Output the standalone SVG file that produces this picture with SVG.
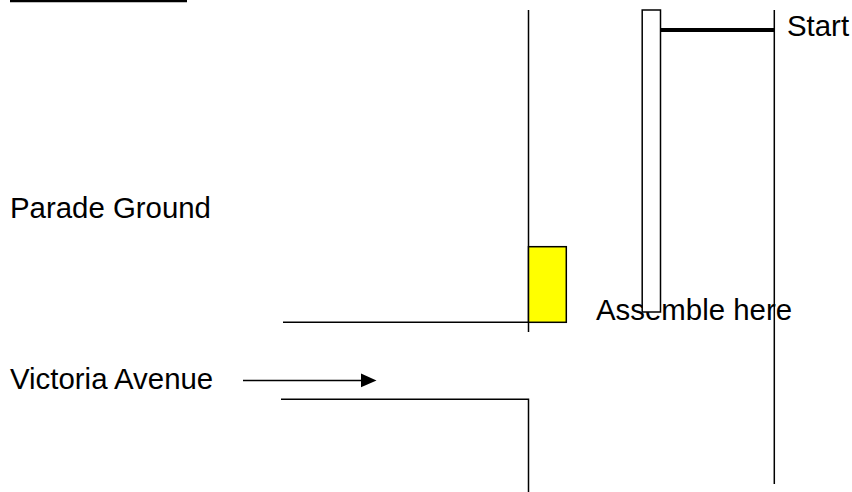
<svg xmlns="http://www.w3.org/2000/svg" width="852" height="492" viewBox="0 0 852 492">
<style>
.ln{stroke:#000;stroke-width:1.5;fill:none}
.t{font-family:"Liberation Sans",Arial,sans-serif;font-size:29.4px;fill:#000}
</style>
<rect width="852" height="492" fill="#fff"/>
<g id="labels">
<text class="t" x="10" y="218">Parade Ground</text>
<text class="t" x="10" y="388.5">Victoria Avenue</text>
<text class="t" x="596" y="320">Assemble here</text>
<text class="t" x="787" y="35.5">Start</text>
</g>
<g id="connectors">
<line x1="10" y1="1" x2="187" y2="1" stroke="#000" stroke-width="2.5"/>
<line class="ln" x1="528.5" y1="10" x2="528.5" y2="332"/>
<line class="ln" x1="774.3" y1="10" x2="774.3" y2="484"/>
<line class="ln" x1="283" y1="322.3" x2="528.5" y2="322.3"/>
<path class="ln" d="M281,399.3 H528.5 V492"/>
<line x1="660" y1="30" x2="774" y2="30" stroke="#000" stroke-width="4"/>
<line class="ln" x1="243" y1="380.5" x2="362" y2="380.5"/>
<path d="M361,373.5 L376.5,380.5 L361,387.3 Z" fill="#000"/>
</g>
<g id="assembly-area">
<rect x="528.5" y="246.7" width="37.8" height="75.6" fill="#ffff00" stroke="#000" stroke-width="1.5"/>
</g>
<g id="start-barrier">
<rect x="642.2" y="10" width="18.3" height="302" fill="#fff" stroke="#000" stroke-width="1.5"/>
</g>
</svg>
